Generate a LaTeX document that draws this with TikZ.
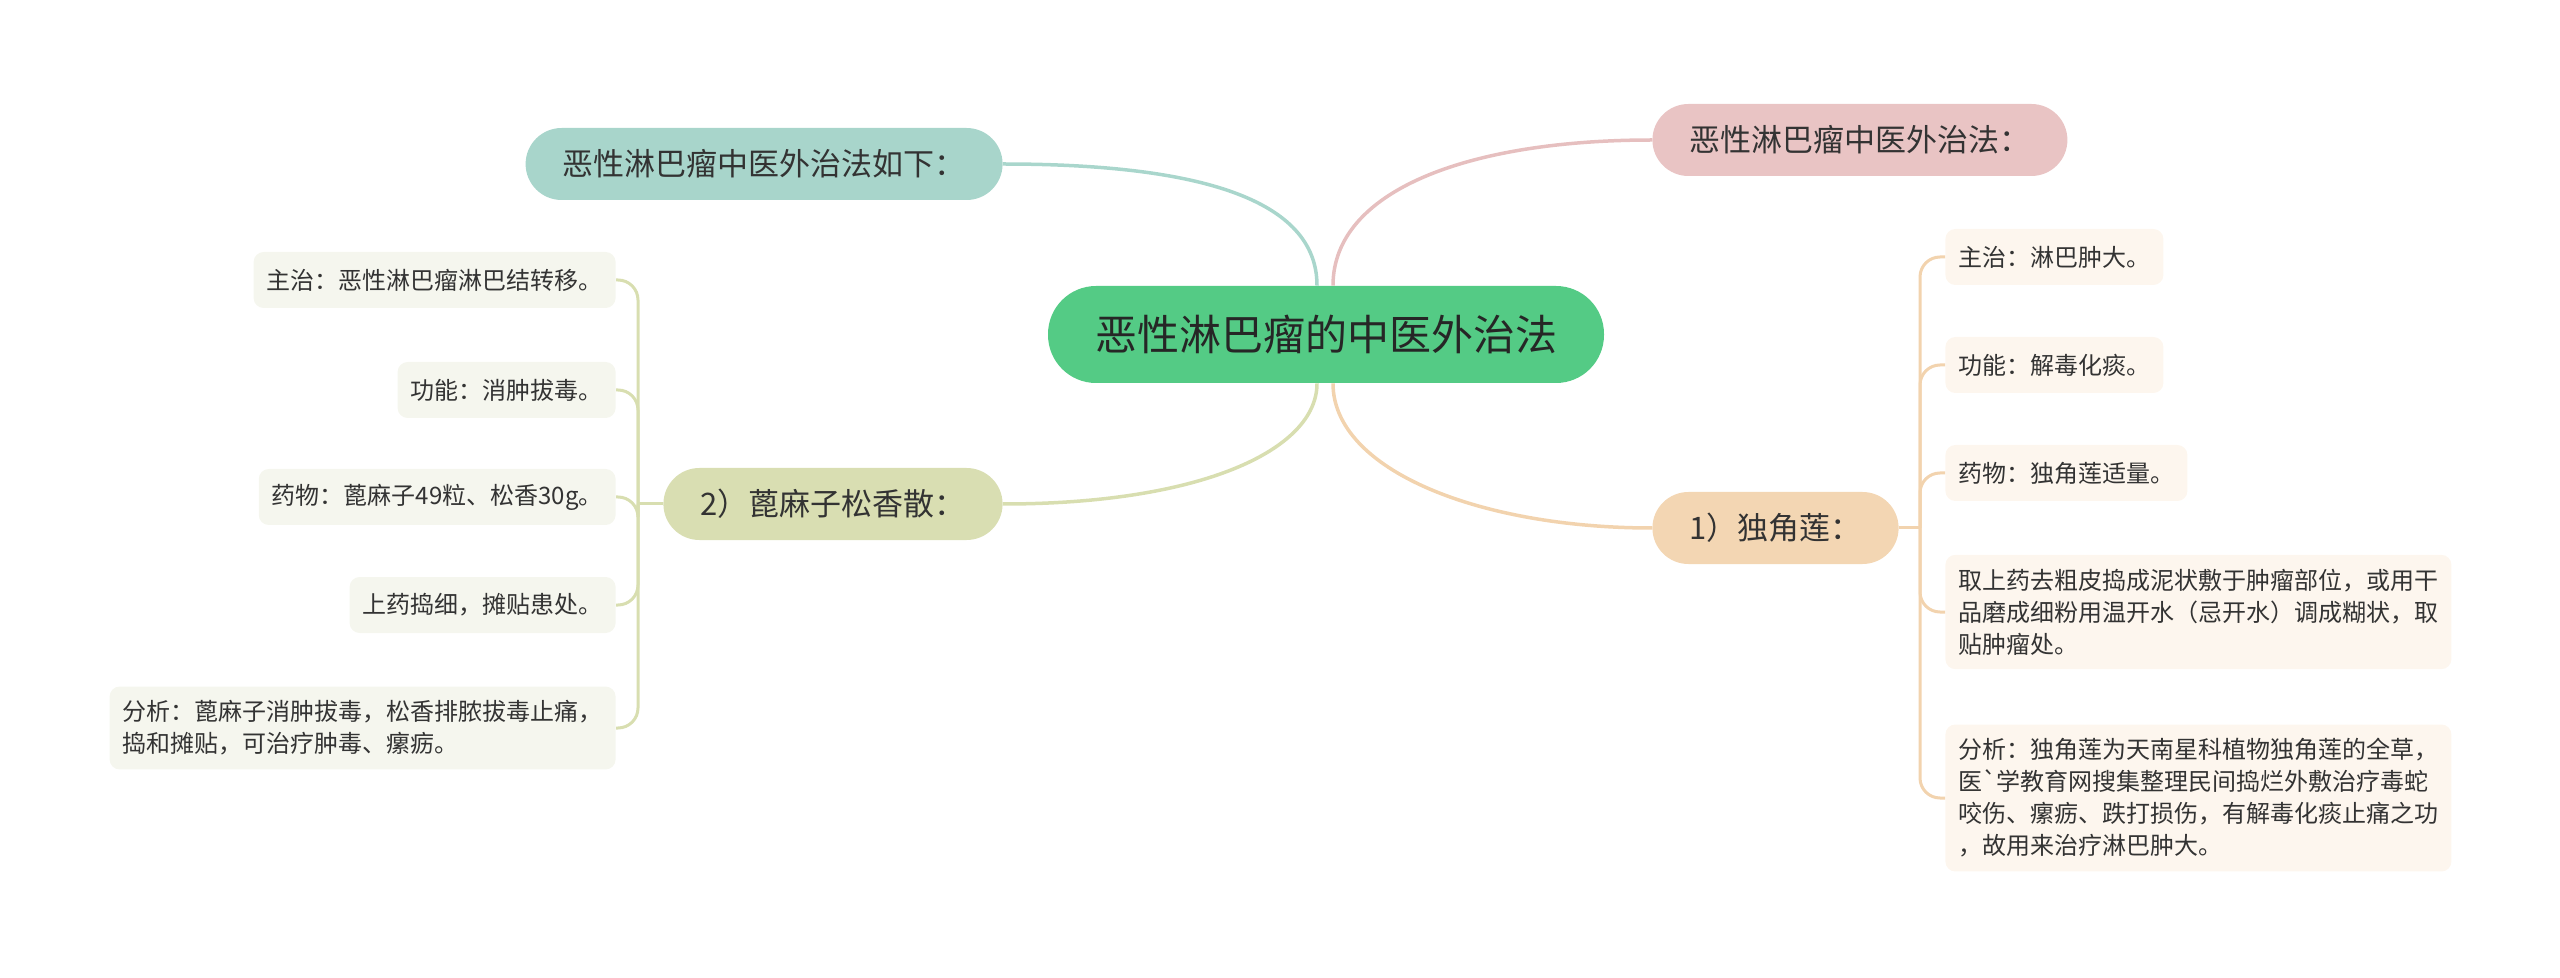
\documentclass[tikz,border=0pt]{standalone}
\usepackage{fontspec}
\usepackage{xcolor}
\usepackage{tikz}
\newfontfamily\cjk{Noto Sans CJK SC}
\definecolor{rootgreen}{HTML}{54CB85}
\definecolor{tealfill}{HTML}{A8D5CB}
\definecolor{tealline}{HTML}{A9D6CC}
\definecolor{pinkfill}{HTML}{E9C4C4}
\definecolor{pinkline}{HTML}{E6BFBF}
\definecolor{olivefill}{HTML}{D9DEB2}
\definecolor{oliveline}{HTML}{D8DEB0}
\definecolor{peachfill}{HTML}{F3D6B3}
\definecolor{peachline}{HTML}{F2D3AE}
\definecolor{leafR}{HTML}{FDF6EE}
\definecolor{leafL}{HTML}{F5F6EE}
\definecolor{txt}{HTML}{333333}

\begin{document}
\begin{tikzpicture}[x=0.5pt,y=-0.5pt,
    root/.style={fill=rootgreen, rounded corners=24pt, minimum height=48.5pt, inner xsep=23.5pt,
        font=\cjk\fontsize{21}{25}\selectfont, text=black!85},
    topic/.style={rounded corners=18pt, minimum height=36pt, inner xsep=18.5pt,
        font=\cjk\fontsize{15.5}{18}\selectfont, text=txt},
    leaf/.style={rounded corners=5pt, minimum height=28pt, inner xsep=6.5pt, inner ysep=7pt,
        align=left, font=\cjk\fontsize{12}{16}\selectfont, text=txt},
    link/.style={line width=1.75pt},
    twig/.style={line width=1.5pt, rounded corners=10pt}]
    \useasboundingbox (0,0) rectangle (2560,978);

    \node[root] (root) at (1326,334.5) {恶性淋巴瘤的中医外治法};
    \node[topic, fill=tealfill, anchor=east] (tl) at (1003,164) {恶性淋巴瘤中医外治法如下：};
    \node[topic, fill=pinkfill, anchor=west] (tr) at (1652,140) {恶性淋巴瘤中医外治法：};
    \node[topic, fill=olivefill, anchor=east] (two) at (1003,504) {2）蓖麻子松香散：};
    \node[topic, fill=peachfill, anchor=west] (one) at (1652,528) {1）独角莲：};

    \draw[link, tealline] ([xshift=-4.5pt]root.north) .. controls +(0,-86) and +(197,0) .. (tl.east);
    \draw[link, pinkline] ([xshift=3.5pt]root.north) .. controls +(0,-96) and +(-182,0) .. (tr.west);
    \draw[link, oliveline] ([xshift=-4.5pt]root.south) .. controls +(0,67) and +(197,0) .. (two.east);
    \draw[link, peachline] ([xshift=3.5pt]root.south) .. controls +(0,87) and +(-172,0) .. (one.west);

    \foreach \n/\y/\t in {r1/257/{主治：淋巴肿大。},
        r2/365/{功能：解毒化痰。},
        r3/473/{药物：独角莲适量。},
        r4/612/{取上药去粗皮捣成泥状敷于肿瘤部位，或用干\\品磨成细粉用温开水（忌开水）调成糊状，取\\贴肿瘤处。},
        r5/798/{分析：独角莲为天南星科植物独角莲的全草，\\医`学教育网搜集整理民间捣烂外敷治疗毒蛇\\咬伤、瘰疬、跌打损伤，有解毒化痰止痛之功\\，故用来治疗淋巴肿大。}}
        \node[leaf, fill=leafR, anchor=west] (\n) at (1945,\y) {\t};

    \foreach \n/\y/\t in {l1/280/{主治：恶性淋巴瘤淋巴结转移。},
        l2/390/{功能：消肿拔毒。},
        l3/497/{药物：蓖麻子49粒、松香30g。},
        l4/605/{上药捣细，摊贴患处。},
        l5/728/{分析：蓖麻子消肿拔毒，松香排脓拔毒止痛，\\捣和摊贴，可治疗肿毒、瘰疬。}}
        \node[leaf, fill=leafL, anchor=east] (\n) at (616,\y) {\t};

    \coordinate (jR) at (1920,528);
    \coordinate (jL) at (638,504);
    \draw[twig, peachline] (one.east) -- (jR);
    \draw[twig, oliveline] (two.west) -- (jL);
    \foreach \n in {r1,r2,r3,r4,r5}
        \draw[twig, peachline] (jR) |- (\n.west);
    \foreach \n in {l1,l2,l3,l4,l5}
        \draw[twig, oliveline] (jL) |- (\n.east);
\end{tikzpicture}
\end{document}
